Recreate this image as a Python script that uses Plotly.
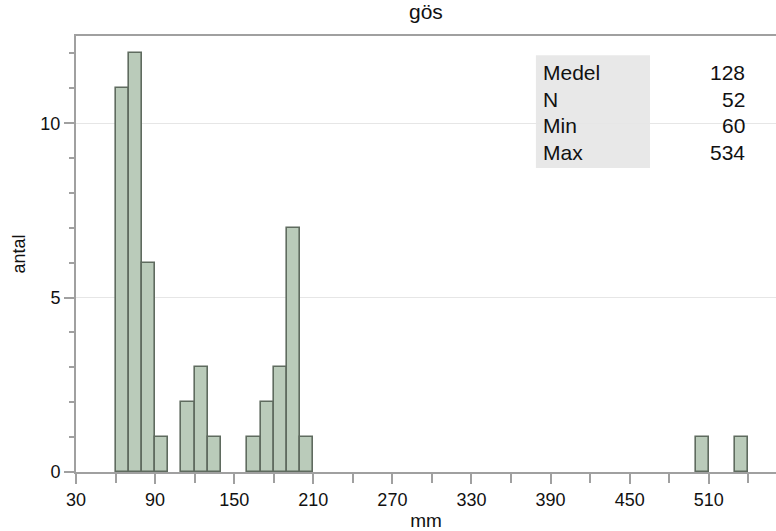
import plotly.graph_objects as go

# Data: histogram bins (left edges, width 10 mm) and counts
bin_start = [60, 70, 80, 90, 110, 120, 130, 160, 170, 180, 190, 200, 500, 530]
counts = [11, 12, 6, 1, 2, 3, 1, 1, 2, 3, 7, 1, 1, 1]
bin_width = 10

stat_labels = ["Medel", "N", "Min", "Max"]
stat_values = ["128", "52", "60", "534"]

x_tickvals = [30, 90, 150, 210, 270, 330, 390, 450, 510]
y_tickvals = [0, 5, 10]

FONT = "Liberation Sans, Arial, Helvetica, sans-serif"

fig = go.Figure()
fig.add_trace(go.Bar(
    x=bin_start,
    y=counts,
    width=[bin_width] * len(bin_start),
    offset=0,
    marker=dict(color="#bacbba", line=dict(color="#5f6b5f", width=1.6)),
    showlegend=False,
    hoverinfo="x+y",
))

# stats box
fig.add_shape(type="rect", xref="paper", yref="paper",
              x0=0.657, x1=0.82, y0=0.697, y1=0.956,
              fillcolor="#e8e8e8", line=dict(width=0), layer="below")
row_y = [0.916, 0.855, 0.794, 0.732]
for lab, val, yy in zip(stat_labels, stat_values, row_y):
    fig.add_annotation(text=lab, xref="paper", yref="paper", x=0.664, y=yy,
                       xanchor="left", yanchor="middle", showarrow=False,
                       font=dict(family=FONT, size=21, color="#111111"))
    fig.add_annotation(text=val, xref="paper", yref="paper", x=0.9586, y=yy,
                       xanchor="right", yanchor="middle", showarrow=False,
                       font=dict(family=FONT, size=21, color="#111111"))

fig.update_layout(
    width=776, height=531,
    margin=dict(l=76, r=0, t=36, b=59, pad=0),
    paper_bgcolor="white", plot_bgcolor="white",
    font=dict(family=FONT, size=18, color="#111111"),
    title=dict(text="gös", x=0.5489, xanchor="center", y=0.978, yanchor="middle",
               font=dict(family=FONT, size=21, color="#111111")),
    bargap=0,
)
fig.update_xaxes(
    range=[30, 561],
    tickmode="array", tickvals=x_tickvals,
    ticks="outside", ticklen=10, tickwidth=1.5, tickcolor="#a0a0a0",
    minor=dict(tickmode="linear", tick0=30, dtick=30, ticks="outside", ticklen=9,
               tickwidth=1.5, tickcolor="#a0a0a0", showgrid=False),
    showline=True, linecolor="#a0a0a0", linewidth=2, mirror=True,
    showgrid=False, zeroline=False,
    tickfont=dict(size=18),
    title=dict(text="mm", font=dict(size=19), standoff=6),
)
fig.update_yaxes(
    range=[0, 12.5],
    tickmode="array", tickvals=y_tickvals,
    ticks="outside", ticklen=10, tickwidth=1.5, tickcolor="#a0a0a0",
    minor=dict(tickmode="linear", tick0=0, dtick=1, ticks="outside", ticklen=5,
               tickwidth=1.5, tickcolor="#a0a0a0", showgrid=False),
    showline=True, linecolor="#a0a0a0", linewidth=2,
    showgrid=True, gridcolor="#e6e6e6", gridwidth=1,
    zeroline=False,
    tickfont=dict(size=18),
    title=dict(text="antal", font=dict(size=18), standoff=10),
)

fig.write_html("out.html")
